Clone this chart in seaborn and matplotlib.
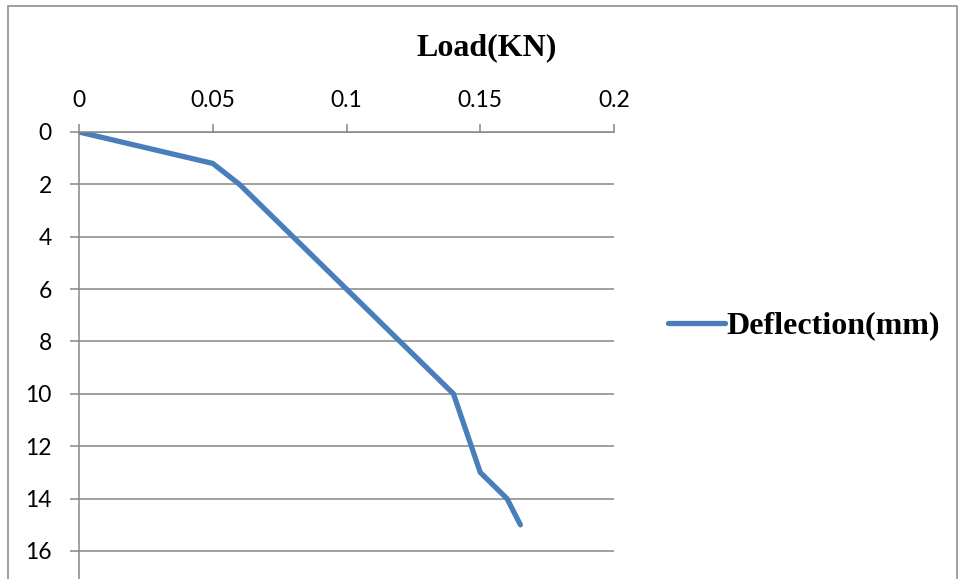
import matplotlib
matplotlib.use("Agg")
import matplotlib.pyplot as plt
import seaborn as sns
import pandas as pd
from matplotlib.patches import Rectangle

# Load-deflection readings
load_kn = [0.0, 0.05, 0.06, 0.08, 0.10, 0.12, 0.14, 0.15, 0.16, 0.165]
deflection_mm = [0.0, 1.2, 2.0, 4.0, 6.0, 8.0, 10.0, 13.0, 14.0, 15.0]
x_ticks = [0, 0.05, 0.1, 0.15, 0.2]
x_tick_labels = ["0", "0.05", "0.1", "0.15", "0.2"]
y_ticks = [0, 2, 4, 6, 8, 10, 12, 14, 16]

df = pd.DataFrame({"Load(KN)": load_kn, "Deflection(mm)": deflection_mm})

sns.set_theme(style="white")
plt.rcParams["font.family"] = ["Lato", "DejaVu Sans"]
plt.rcParams["text.color"] = "black"

W, H = 961, 579
fig = plt.figure(figsize=(W / 100, H / 100), dpi=100)
ax = fig.add_axes([79 / W, 0.0, (614 - 79) / W, 1 - 132 / H])

grid_c = "#868686"
line_c = "#4A7EBB"

sns.lineplot(data=df, x="Load(KN)", y="Deflection(mm)", sort=False,
             color=line_c, linewidth=3.8, ax=ax, label="Deflection(mm)",
             solid_capstyle="round", solid_joinstyle="round")

ax.set_xlim(0, 0.2)
ax.set_ylim(17.07, 0)
ax.set_xticks(x_ticks)
ax.set_xticklabels(x_tick_labels)
ax.set_yticks(y_ticks)
ax.xaxis.tick_top()
ax.set_xlabel("")
ax.set_ylabel("")

ax.yaxis.grid(True, color=grid_c, linewidth=1.1)
ax.xaxis.grid(False)
ax.set_axisbelow(True)

for side in ["right", "bottom"]:
    ax.spines[side].set_visible(False)
for side in ["left", "top"]:
    ax.spines[side].set_color(grid_c)
    ax.spines[side].set_linewidth(1.1)

ax.tick_params(axis="y", direction="out", length=6.5, width=1.1, color=grid_c,
               pad=13, labelsize=16.5, labelcolor="black", left=True)
ax.tick_params(axis="x", direction="out", length=6, width=1.1, color=grid_c,
               pad=9, labelsize=16.5, labelcolor="black", top=True)

# Axis title above the chart
fig.text(487 / W, 1 - 48 / H, "Load(KN)", ha="center", va="center",
         family="Liberation Serif", fontweight="bold", fontsize=23,
         color="black")

leg = ax.legend(loc="center left", bbox_to_anchor=(668 / W, 1 - 326 / H),
                bbox_transform=fig.transFigure, frameon=False,
                handlelength=1.78, handletextpad=0.05, borderaxespad=0,
                borderpad=0,
                prop={"family": "Liberation Serif", "weight": "bold", "size": 23})
for h in leg.get_lines():
    h.set_linewidth(3.8)
for t in leg.get_texts():
    t.set_color("black")

# Outer chart border
fig.patches.append(Rectangle((8 / W, -0.02), (957 - 8) / W, 1.02 - 6 / H,
                             transform=fig.transFigure, fill=False,
                             edgecolor=grid_c, linewidth=1.1))

fig.savefig("out.png", dpi=100)
